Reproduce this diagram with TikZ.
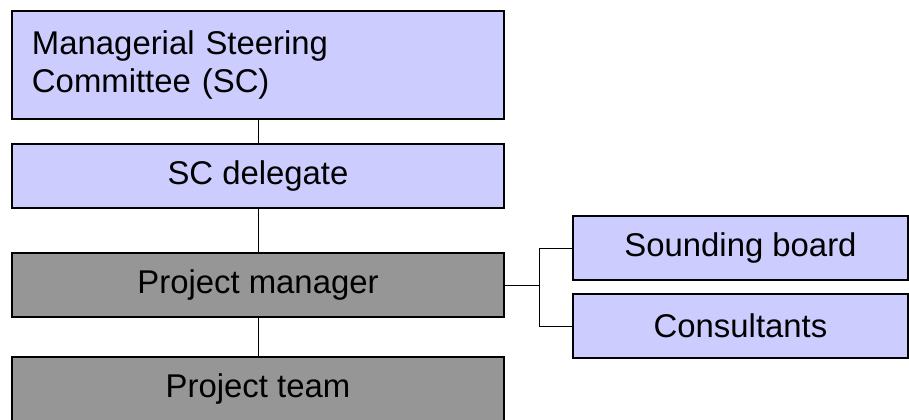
\documentclass[tikz,border=0pt]{standalone}
\usepackage{fontspec}
\setmainfont{Liberation Sans}
\usetikzlibrary{positioning}
\definecolor{lavbox}{RGB}{204,204,255}
\definecolor{greybox}{RGB}{150,150,150}

\begin{document}
\begin{tikzpicture}[x=1bp, y=-1bp,
  every node/.style={font=\fontsize{33}{38}\selectfont},
  orgbox/.style={draw=black, line width=1.3bp, minimum width=492bp, minimum height=64bp, inner sep=0pt},
  sidebox/.style={orgbox, minimum width=335bp},
  link/.style={line width=0.9bp}]
  \useasboundingbox (0,0) rectangle (909,419);
  % main column
  \node[orgbox, fill=lavbox, minimum height=108bp, text width=452bp, align=left] (sc) at (258,65) {Managerial Steering\\Committee (SC)};
  \node[orgbox, fill=lavbox] (del) at (258,176) {SC delegate};
  \node[orgbox, fill=greybox] (pm) at (258,285) {Project manager};
  \node[orgbox, fill=greybox] (team) at (258,389) {Project team};
  % side boxes
  \node[sidebox, fill=lavbox] (sound) at (740.5,248) {Sounding board};
  \node[sidebox, fill=lavbox] (cons) at (740.5,326) {Consultants};
  % connectors
  \draw[link] (sc) -- (del);
  \draw[link] (del) -- (pm);
  \draw[link] (pm) -- (team);
  \coordinate (fork) at (539,285);
  \draw[link] (pm.east) -- (fork);
  \draw[link] (fork) |- (sound.west);
  \draw[link] (fork) |- (cons.west);
\end{tikzpicture}
\end{document}
